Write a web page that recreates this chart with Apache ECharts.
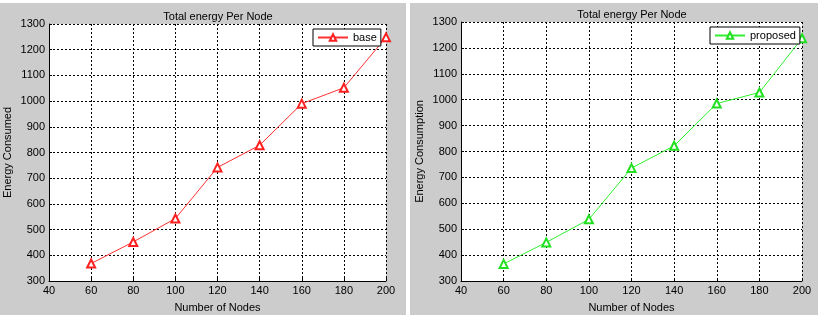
<!DOCTYPE html>
<html>
<head>
<meta charset="utf-8">
<script src="https://cdn.jsdelivr.net/npm/echarts@6/dist/echarts.min.js"></script>
<style>
html, body { margin: 0; padding: 0; background: #fff; }
#main { width: 828px; height: 318px; }
</style>
</head>
<body>
<div id="main"></div>
<script>
// values
const nodes = [60, 80, 100, 120, 140, 160, 180, 200]
const baseEnergy = [368, 452, 543, 742, 828, 990, 1052, 1248]
const proposedEnergy = [366, 449, 538, 736, 822, 985, 1028, 1237]
const xTicks = { min: 40, max: 200, interval: 20 }
const yTicks = { min: 300, max: 1300, interval: 100 }

const font = 'Liberation Sans, Arial, sans-serif'
const pairs = (vals) => nodes.map((n, i) => [n, vals[i]])

const chart = echarts.init(document.getElementById('main'))

const xAxisCfg = (gridIndex) => ({
    type: 'value',
    gridIndex: gridIndex,
    min: xTicks.min, max: xTicks.max, interval: xTicks.interval,
    name: 'Number of Nodes',
    nameLocation: 'middle',
    nameGap: 21,
    nameTextStyle: { color: '#000', fontSize: 11, fontFamily: font },
    axisLine: { show: true, lineStyle: { color: '#000', width: 1 } },
    axisTick: { show: true, inside: true, length: 3, lineStyle: { color: '#000' } },
    axisLabel: { color: '#000', fontSize: 11, fontFamily: font, margin: 4, formatter: (v) => String(v) },
    splitLine: { show: true, lineStyle: { color: '#000', type: [2, 2], width: 1 } }
})

const yAxisCfg = (gridIndex, name) => ({
    type: 'value',
    gridIndex: gridIndex,
    min: yTicks.min, max: yTicks.max, interval: yTicks.interval,
    name: name,
    nameLocation: 'middle',
    nameGap: 36,
    nameTextStyle: { color: '#000', fontSize: 11, fontFamily: font },
    axisLine: { show: true, lineStyle: { color: '#000', width: 1 } },
    axisTick: { show: true, inside: true, length: 3, lineStyle: { color: '#000' } },
    axisLabel: { color: '#000', fontSize: 11, fontFamily: font, margin: 4, formatter: (v) => String(v) },
    splitLine: { show: true, lineStyle: { color: '#000', type: [2, 2], width: 1 } }
})

const legendCfg = (name, left, top) => ({
    data: [name], left: left, top: top,
    padding: [3, 4, 3, 4], itemWidth: 30, itemHeight: 8,
    backgroundColor: '#fff', borderColor: '#000', borderWidth: 1, borderRadius: 0,
    textStyle: { color: '#000', fontSize: 11, fontFamily: font }
})

chart.setOption({
    animation: false,
    backgroundColor: '#fff',
    graphic: [
        { type: 'rect', shape: { x: 0, y: 3, width: 406, height: 312 }, style: { fill: '#cccccc' }, z: -10 },
        { type: 'rect', shape: { x: 410, y: 3, width: 408, height: 312 }, style: { fill: '#cccccc' }, z: -10 }
    ],
    title: [
        { text: 'Total energy Per Node', left: 213, top: 6, textAlign: 'center',
          textStyle: { color: '#000', fontSize: 11, fontWeight: 'normal', fontFamily: font } },
        { text: 'Total energy Per Node', left: 627, top: 4, textAlign: 'center',
          textStyle: { color: '#000', fontSize: 11, fontWeight: 'normal', fontFamily: font } }
    ],
    legend: [legendCfg('base', 313, 29), legendCfg('proposed', 710, 27)],
    grid: [
        { left: 49, top: 24, width: 337, height: 263, backgroundColor: '#fff', show: true, borderWidth: 0 },
        { left: 461, top: 22, width: 341, height: 264, backgroundColor: '#fff', show: true, borderWidth: 0 }
    ],
    xAxis: [xAxisCfg(0), xAxisCfg(1)],
    yAxis: [yAxisCfg(0, 'Energy Consumed'), yAxisCfg(1, 'Energy Consumption')],
    series: [
        {
            name: 'base', type: 'line', xAxisIndex: 0, yAxisIndex: 0,
            data: pairs(baseEnergy),
            clip: false,
            symbol: 'emptyTriangle', symbolSize: 8,
            lineStyle: { color: '#ff3030', width: 1 },
            itemStyle: { color: '#ff2020', borderColor: '#ff2020', borderWidth: 1 },
            emphasis: { disabled: true }
        },
        {
            name: 'proposed', type: 'line', xAxisIndex: 1, yAxisIndex: 1,
            data: pairs(proposedEnergy),
            clip: false,
            symbol: 'emptyTriangle', symbolSize: 8,
            lineStyle: { color: '#30f030', width: 1 },
            itemStyle: { color: '#20e020', borderColor: '#20e020', borderWidth: 1 },
            emphasis: { disabled: true }
        }
    ]
})
</script>
</body>
</html>
